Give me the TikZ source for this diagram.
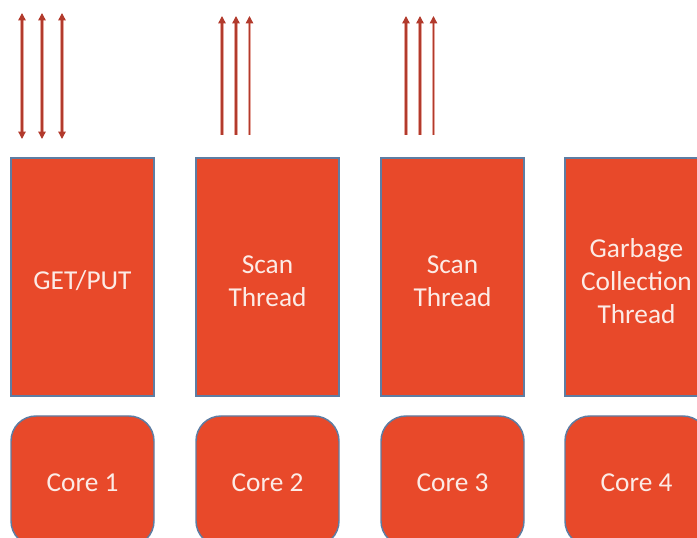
\documentclass[tikz,border=0pt]{standalone}
\usepackage{fontspec}
\setmainfont{Carlito}
\usetikzlibrary{arrows.meta}
\definecolor{boxfill}{HTML}{E8492A}
\definecolor{boxline}{HTML}{5D7DA3}
\definecolor{boxtext}{HTML}{FCEBE6}
\definecolor{arrowred}{HTML}{B23A2C}
\definecolor{arrowglow}{HTML}{E4A79E}
\tikzset{
  threadbox/.style={rectangle, fill=boxfill, draw=boxline, line width=1.1pt,
    minimum width=107.25pt, minimum height=178.5pt, inner sep=0pt},
  corebox/.style={threadbox, rounded corners=18.75pt, minimum height=97.5pt},
  boxlabel/.style={text=boxtext, align=center, inner sep=0pt, yshift=-3pt,
    font=\fontsize{20.5pt}{24.6pt}\selectfont},
  corelabel/.style={boxlabel, yshift=1.5pt},
  glowline/.style={draw=arrowglow, line width=2.8pt},
  flowline/.style={draw=arrowred, line width=1pt},
  uptip/.style={-{Triangle[length=5.5pt,width=5.5pt]}},
  bothtips/.style={{Triangle[length=5.5pt,width=5.5pt]}-{Triangle[length=5.5pt,width=5.5pt]}},
}
\begin{document}
\begin{tikzpicture}[x=0.75pt, y=-0.75pt]
\useasboundingbox (0,0) rectangle (697,538);
\begin{scope}
\clip (0,0) rectangle (697,538);
% thread boxes
\node[threadbox, label={[boxlabel]center:GET/PUT}] (t1) at (82.5,277) {};
\node[threadbox, label={[boxlabel]center:Scan\\Thread}] (t2) at (267.5,277) {};
\node[threadbox, label={[boxlabel]center:Scan\\Thread}] (t3) at (452.5,277) {};
\node[threadbox, label={[boxlabel]center:Garbage\\Collection\\Thread}] (t4) at (636.5,277) {};
% cores
\node[corebox, label={[corelabel]center:Core 1}] (c1) at (82.5,481) {};
\node[corebox, label={[corelabel]center:Core 2}] (c2) at (267.5,481) {};
\node[corebox, label={[corelabel]center:Core 3}] (c3) at (452.5,481) {};
\node[corebox, label={[corelabel]center:Core 4}] (c4) at (636.5,481) {};
\end{scope}
% arrow end points above the thread boxes
\foreach \x [count=\i] in {22,42,62} {
  \coordinate (p\i top) at (\x,13);
  \coordinate (p\i bot) at (\x,139);
  \draw[glowline] (\x,18) -- (\x,134);
  \draw[flowline, bothtips] (p\i top) -- (p\i bot);
}
\foreach \x [count=\i] in {222,236,249.5} {
  \coordinate (q\i top) at (\x,16);
  \coordinate (q\i bot) at (\x,135);
  \draw[glowline] (\x,21) -- (q\i bot);
  \draw[flowline, uptip] (q\i bot) -- (q\i top);
}
\foreach \x [count=\i] in {406,420,433.5} {
  \coordinate (r\i top) at (\x,16);
  \coordinate (r\i bot) at (\x,135);
  \draw[glowline] (\x,21) -- (r\i bot);
  \draw[flowline, uptip] (r\i bot) -- (r\i top);
}
\end{tikzpicture}
\end{document}
